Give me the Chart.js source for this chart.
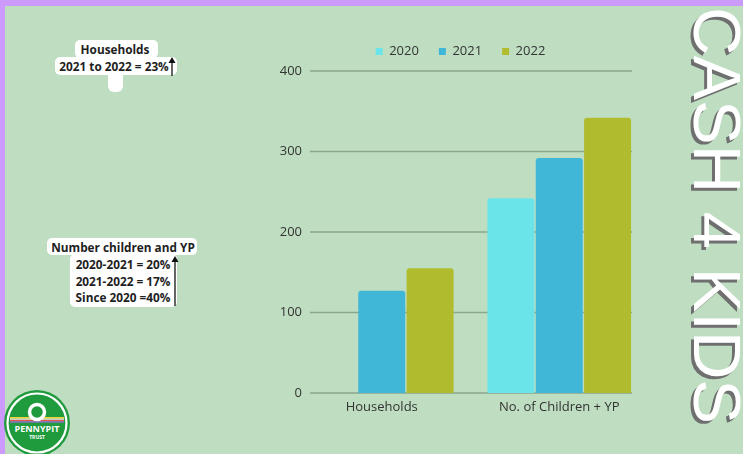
<!DOCTYPE html>
<html>
<head>
    <title>Cash 4 Kids</title>
    <script src="https://cdn.jsdelivr.net/npm/chart.js"></script>
    <style>
        html, body {
            margin: 0;
            padding: 0;
            width: 743px;
            height: 454px;
            overflow: hidden;
        }
        body {
            position: relative;
            background: #bfdec1;
            font-family: "Open Sans", sans-serif;
        }
        .border-top { position: absolute; left: 0; top: 0; width: 743px; height: 6px; background: #cc99fc; }
        .border-left { position: absolute; left: 0; top: 0; width: 5px; height: 454px; background: #cc99fc; }
        .chart-box { position: absolute; left: 250px; top: 25px; width: 430px; height: 398px; }
        .note {
            position: absolute;
            font-weight: 700;
            font-size: 11.8px;
            color: #1e1e1e;
            text-align: center;
            line-height: 17px;
        }
        .pill {
            position: absolute;
            background: #fff;
            border-radius: 5px;
        }
        .txt { position: absolute; white-space: nowrap; transform: translateX(-50%); }
        .title-side {
            position: absolute;
            left: 751px;
            top: 7px;
            transform-origin: 0 0;
            transform: rotate(90deg);
            font-family: "Liberation Sans", Arial, sans-serif;
            font-size: 67px;
            line-height: 68px;
            color: #fff;
            white-space: nowrap;
            text-shadow: 3px 3px 0 #6f6f6f;
        }
    </style>
</head>
<body>
    <div class="border-top"></div>
    <div class="border-left"></div>

    <!-- note: households -->
    <div class="pill" style="left:75px;top:40px;width:83px;height:18px;"></div>
    <div class="pill" style="left:55px;top:57px;width:122px;height:18px;"></div>
    <div class="pill" style="left:108px;top:70px;width:15px;height:22px;border-radius:0 0 6px 6px;"></div>
    <div class="note">
        <span class="txt" style="left:115px;top:41px;">Households</span>
        <span class="txt" style="left:114px;top:58px;">2021 to 2022 = 23%</span>
    </div>

    <!-- note: children -->
    <div class="pill" style="left:47px;top:238px;width:150px;height:17px;"></div>
    <div class="pill" style="left:70px;top:254px;width:107px;height:53px;"></div>
    <div class="note">
        <span class="txt" style="left:123px;top:239px;">Number children and YP</span>
        <span class="txt" style="left:123px;top:256px;">2020-2021 = 20%</span>
        <span class="txt" style="left:123px;top:273px;">2021-2022 = 17%</span>
        <span class="txt" style="left:123px;top:289px;">Since 2020 =40%</span>
    </div>
    <svg style="position:absolute;left:0;top:0;pointer-events:none" width="743" height="454">
        <line x1="172" y1="76" x2="172" y2="60" stroke="#111" stroke-width="1.3"/>
        <polygon points="168.5,63 172,57 175.5,63" fill="#111"/>
        <line x1="175" y1="306" x2="175" y2="259" stroke="#111" stroke-width="1.3"/>
        <polygon points="171.5,262 175,256 178.5,262" fill="#111"/>
    </svg>

    <!-- logo -->
    <svg style="position:absolute;left:0;top:385px" width="80" height="69">
        <circle cx="37" cy="38" r="33" fill="#1f9a3d"/>
        <circle cx="37" cy="38" r="29.5" fill="none" stroke="#fff" stroke-width="2.2"/>
        <rect x="10" y="32" width="54" height="1.6" fill="#f2d33a"/>
        <rect x="10" y="33.6" width="54" height="1.2" fill="#fff"/>
        <rect x="10" y="34.8" width="54" height="1.4" fill="#e2574c"/>
        <rect x="10" y="36.2" width="54" height="1.4" fill="#9b6fd1"/>
        <circle cx="37" cy="27" r="7.5" fill="#1f9a3d" stroke="#fff" stroke-width="3.5"/>
        <text x="37" y="47" text-anchor="middle" font-family="Open Sans" font-weight="700" font-size="9" fill="#fff">PENNYPIT</text>
        <text x="37" y="54" text-anchor="middle" font-family="Open Sans" font-weight="700" font-size="5" fill="#fff">TRUST</text>
    </svg>

    <div class="title-side">CASH 4 KIDS</div>

    <div class="chart-box">
        <canvas id="chart" width="430" height="398"></canvas>
    </div>

<script>
// chart data
const categories = ['Households', 'No. of Children + YP'];
const years = ['2020', '2021', '2022'];
const values2020 = [0, 242];
const values2021 = [127, 292];
const values2022 = [155, 342];
const yTicks = [0, 100, 200, 300, 400];
const colors = ['#6ae4e8', '#41b7d7', '#b0bb2e'];

// grid lines + y labels, drawn behind the bars
const gridPlugin = {
    id: 'shortGrid',
    afterLayout(chart) {
        // legend sits a little left of the plot centre in the original
        chart.legend.left -= 10;
        chart.legend.right -= 10;
    },
    beforeDatasetsDraw(chart) {
        const ctx = chart.ctx;
        const area = chart.chartArea;
        const y = chart.scales.y;
        ctx.save();
        ctx.strokeStyle = '#8aa68c';
        ctx.lineWidth = 1.5;
        ctx.fillStyle = '#333';
        ctx.font = '13px "Open Sans"';
        ctx.textAlign = 'right';
        ctx.textBaseline = 'middle';
        yTicks.forEach(v => {
            const py = y.getPixelForValue(v);
            ctx.beginPath();
            ctx.moveTo(area.left + 17, py);
            ctx.lineTo(area.right - 16, py);
            ctx.stroke();
            ctx.fillText(String(v), area.left + 9, py);
        });
        ctx.restore();
    }
};

const seriesValues = [values2020, values2021, values2022];

new Chart(document.getElementById('chart').getContext('2d'), {
    type: 'bar',
    data: {
        labels: categories,
        datasets: years.map((yr, i) => ({
            label: yr,
            data: seriesValues[i],
            backgroundColor: colors[i],
            borderRadius: 3,
            categoryPercentage: 0.817,
            barPercentage: 0.972
        }))
    },
    options: {
        responsive: false,
        animation: false,
        layout: { padding: { left: 43, right: 32, top: 0, bottom: 0 } },
        plugins: {
            legend: {
                position: 'top',
                labels: {
                    boxWidth: 7,
                    boxHeight: 7,
                    padding: 20,
                    color: '#333',
                    font: { family: 'Open Sans', size: 13 }
                }
            },
            tooltip: { enabled: false }
        },
        scales: {
            x: {
                grid: { display: false, drawTicks: false },
                border: { display: false },
                ticks: { color: '#333', padding: 6, font: { family: 'Open Sans', size: 13 } },
                afterFit: s => { s.height = 30; }
            },
            spacer: {
                type: 'category',
                position: 'top',
                grid: { display: false, drawTicks: false },
                border: { display: false },
                ticks: { display: false },
                afterFit: s => { s.height = 3; }
            },
            y: {
                display: false,
                min: 0,
                max: 400
            }
        }
    },
    plugins: [gridPlugin]
});
</script>
</body>
</html>
